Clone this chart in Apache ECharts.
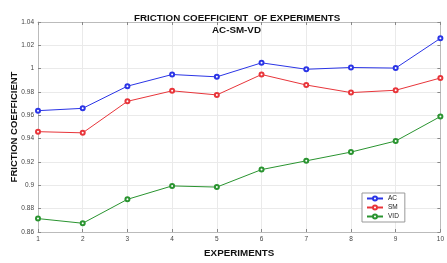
<!DOCTYPE html>
<html>
<head>
<meta charset="utf-8">
<script src="https://cdn.jsdelivr.net/npm/echarts@6/dist/echarts.min.js"></script>
<style>
  html, body { margin: 0; padding: 0; background: #fff; }
  #main { width: 447px; height: 263px; }
</style>
</head>
<body>
<div id="main"></div>
<script>
const experiments = ["1", "2", "3", "4", "5", "6", "7", "8", "9", "10"];
const acData = [0.964, 0.966, 0.985, 0.995, 0.993, 1.005, 0.9995, 1.001, 1.0005, 1.026];
const smData = [0.946, 0.945, 0.972, 0.981, 0.9775, 0.995, 0.986, 0.9795, 0.9815, 0.992];
const vdData = [0.8715, 0.8675, 0.888, 0.8995, 0.8985, 0.9135, 0.921, 0.9285, 0.938, 0.959];

const myChart = echarts.init(document.getElementById("main"));

const font = "Liberation Sans, Arial, sans-serif";
const lineSeries = (name, data, color) => ({
  name: name,
  type: "line",
  data: data,
  symbol: "emptyCircle",
  symbolSize: 4,
  lineStyle: { color: color, width: 1 },
  itemStyle: { color: color, borderWidth: 1 },
  animation: false,
});

const option = {
  backgroundColor: "#fff",
  textStyle: { fontFamily: font },
  title: [
    {
      text: "FRICTION COEFFICIENT  OF EXPERIMENTS",
      left: 129, top: 8,
      textStyle: { fontSize: 9.8, fontWeight: "bold", color: "#111", fontFamily: font },
    },
    {
      text: "AC-SM-VD",
      left: 207, top: 20,
      textStyle: { fontSize: 9.8, fontWeight: "bold", color: "#111", fontFamily: font },
    },
  ],
  legend: {
    orient: "vertical",
    left: 362, top: 193,
    itemWidth: 16, itemHeight: 5, itemGap: 2,
    padding: [2, 6, 2, 4],
    borderColor: "#999", borderWidth: 1,
    backgroundColor: "#fff",
    textStyle: { fontSize: 6.5, color: "#222", fontFamily: font },
    data: ["AC", "SM", "VID"],
  },
  grid: { left: 38, right: 3, top: 22, bottom: 26, containLabel: false },
  xAxis: [
    {
      type: "category",
      data: experiments,
      boundaryGap: false,
      name: "EXPERIMENTS",
      nameLocation: "middle",
      nameGap: 16,
      nameTextStyle: { fontSize: 9.8, fontWeight: "bold", color: "#111", fontFamily: font },
      axisLine: { lineStyle: { color: "#bbb" } },
      axisTick: { inside: true, length: 3, lineStyle: { color: "#888" } },
      axisLabel: { fontSize: 6.5, color: "#444", margin: 4 },
      splitLine: { show: true, lineStyle: { color: "#eaeaea", width: 1 } },
    },
    {
      type: "category",
      data: experiments,
      boundaryGap: false,
      position: "top",
      axisLine: { lineStyle: { color: "#bbb" } },
      axisTick: { inside: true, length: 3, lineStyle: { color: "#888" } },
      axisLabel: { show: false },
      splitLine: { show: false },
    },
  ],
  yAxis: [
    {
      type: "value",
      min: 0.86, max: 1.04, interval: 0.02,
      name: "FRICTION COEFFICIENT",
      nameLocation: "middle",
      nameGap: 19,
      nameMoveOverlap: false,
      nameTextStyle: { fontSize: 9.5, fontWeight: "bold", color: "#111", fontFamily: font },
      axisLine: { show: true, lineStyle: { color: "#bbb" } },
      axisTick: { show: true, inside: true, length: 3, lineStyle: { color: "#888" } },
      axisLabel: {
        fontSize: 6.5, color: "#444", margin: 4,
        formatter: (v) => parseFloat(v.toFixed(2)).toString(),
      },
      splitLine: { show: true, lineStyle: { color: "#eaeaea", width: 1 } },
    },
    {
      type: "value",
      min: 0.86, max: 1.04, interval: 0.02,
      position: "right",
      axisLine: { show: true, lineStyle: { color: "#bbb" } },
      axisTick: { show: true, inside: true, length: 3, lineStyle: { color: "#888" } },
      axisLabel: { show: false },
      splitLine: { show: false },
    },
  ],
  series: [
    lineSeries("AC", acData, "#2b35e6"),
    lineSeries("SM", smData, "#e8353a"),
    lineSeries("VID", vdData, "#2a9430"),
  ],
};

myChart.setOption(option);
window.addEventListener("resize", () => {
  myChart.resize();
});
</script>
</body>
</html>
